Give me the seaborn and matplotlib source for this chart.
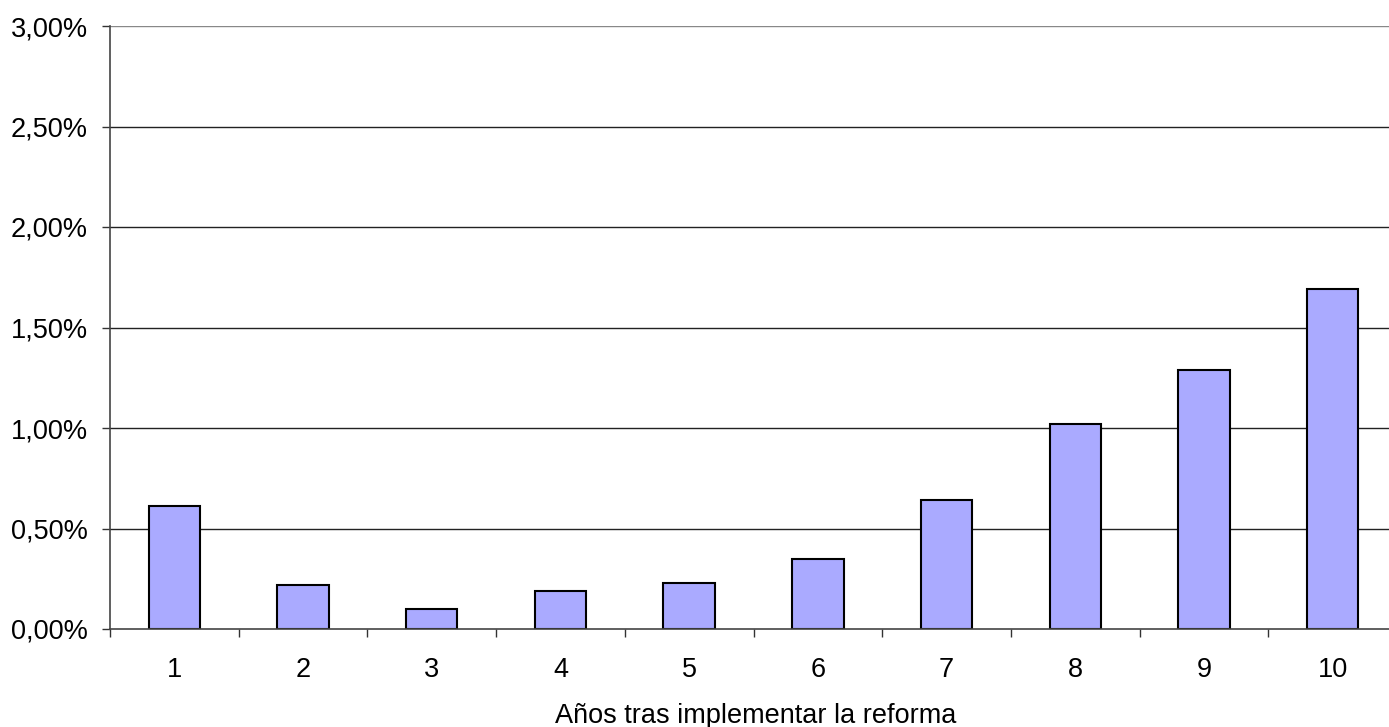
import matplotlib
matplotlib.use("Agg")
import matplotlib.pyplot as plt
from matplotlib.ticker import FixedLocator, FuncFormatter
import seaborn as sns
import pandas as pd
import numpy as np

# Years after the reform and the effect (percent)
years = ["1", "2", "3", "4", "5", "6", "7", "8", "9", "10"]
effect = [0.61, 0.22, 0.10, 0.19, 0.23, 0.35, 0.64, 1.02, 1.29, 1.69]
y_ticks = [0.0, 0.5, 1.0, 1.5, 2.0, 2.5, 3.0]

sns.set_theme(style="white")
plt.rcParams["font.family"] = ["Liberation Sans", "DejaVu Sans"]

df = pd.DataFrame({"year": years, "effect": effect})

FS = 19.5
fig = plt.figure(figsize=(13.89, 7.27), dpi=100)
ax = fig.add_axes([110 / 1389, 1 - 629 / 727, 1287 / 1389, (629 - 26) / 727])

sns.barplot(data=df, x="year", y="effect", order=years, color="#AAAAFF",
            saturation=1, width=0.4, edgecolor="black", linewidth=1.5, ax=ax,
            zorder=3)

ax.set_xlim(-0.5, len(years) - 0.5)
ax.set_ylim(0, 3.0)

# horizontal gridlines
for v in y_ticks[1:]:
    ax.axhline(v, color="#888888" if v == 3.0 else "#222222", lw=1.0, zorder=1)

ax.yaxis.set_major_locator(FixedLocator(y_ticks))
ax.yaxis.set_major_formatter(FuncFormatter(lambda v, p: f"{v:.2f}%".replace(".", ",")))

# category labels without ticks, separators as minor ticks
ax.tick_params(axis="x", which="major", length=0, pad=20.5, labelsize=FS, colors="black")
ax.xaxis.set_minor_locator(FixedLocator(np.arange(-0.5, len(years) + 0.5, 1.0)))
ax.tick_params(axis="x", which="minor", length=6, width=1, color="#333333", direction="out", bottom=True)
ax.tick_params(axis="y", length=6, width=1, color="#333333", direction="out", left=True,
               labelsize=FS, labelcolor="black", pad=10)

for s in ["top", "right"]:
    ax.spines[s].set_visible(False)
for s in ["left", "bottom"]:
    ax.spines[s].set_color("#444444")
    ax.spines[s].set_linewidth(1.2)
    ax.spines[s].set_zorder(4)

ax.set_ylabel("")
ax.set_xlabel("Años tras implementar la reforma", fontsize=FS, color="black")
ax.xaxis.set_label_coords((756 - 110) / 1287, -(716 - 629) / 603)
ax.xaxis.label.set_va("center")

fig.savefig("out.png", dpi=100, facecolor="white")
